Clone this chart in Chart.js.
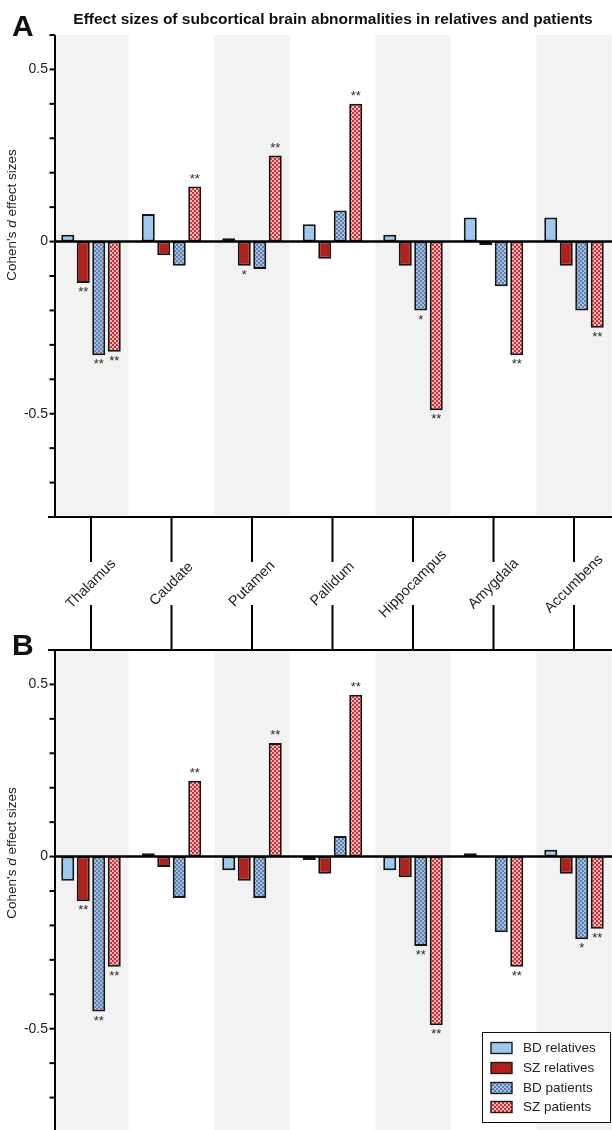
<!DOCTYPE html>
<html>
<head>
<meta charset="utf-8">
<script src="https://cdn.jsdelivr.net/npm/chart.js@4.4.1/dist/chart.umd.min.js"></script>
<style>
  html, body { margin: 0; padding: 0; background: #fff; width: 612px; height: 1130px; overflow: hidden; }
  #wrap { position: relative; width: 612px; height: 1130px; overflow: hidden; }
  canvas { position: absolute; left: 0; }
  #chartA { top: 0; }
  #chartB { top: 620px; }
</style>
</head>
<body>
<div id="wrap">
  <canvas id="chartA" width="616" height="660"></canvas>
  <canvas id="chartB" width="616" height="516"></canvas>
</div>
<script>
const regions = ['Thalamus', 'Caudate', 'Putamen', 'Pallidum', 'Hippocampus', 'Amygdala', 'Accumbens'];
const seriesLabels = ['BD relatives', 'SZ relatives', 'BD patients', 'SZ patients'];

// panel A
const bdRelA = [0.02, 0.08, 0.01, 0.05, 0.02, 0.07, 0.07];
const szRelA = [-0.12, -0.04, -0.07, -0.05, -0.07, -0.01, -0.07];
const bdPatA = [-0.33, -0.07, -0.08, 0.09, -0.20, -0.13, -0.20];
const szPatA = [-0.32, 0.16, 0.25, 0.40, -0.49, -0.33, -0.25];

// panel B
const bdRelB = [-0.07, 0.01, -0.04, -0.01, -0.04, 0.01, 0.02];
const szRelB = [-0.13, -0.03, -0.07, -0.05, -0.06, 0.00, -0.05];
const bdPatB = [-0.45, -0.12, -0.12, 0.06, -0.26, -0.22, -0.24];
const szPatB = [-0.32, 0.22, 0.33, 0.47, -0.49, -0.32, -0.21];

// significance marks
const sigA = [
  ['', '', '', '', '', '', ''],
  ['**', '', '*', '', '', '', ''],
  ['**', '', '', '', '*', '', ''],
  ['**', '**', '**', '**', '**', '**', '**']
];
const sigB = [
  ['', '', '', '', '', '', ''],
  ['**', '', '', '', '', '', ''],
  ['**', '', '', '', '**', '', '*'],
  ['**', '**', '**', '**', '**', '**', '**']
];

const yTicks = [0.6, 0.5, 0.4, 0.3, 0.2, 0.1, 0, -0.1, -0.2, -0.3, -0.4, -0.5, -0.6, -0.7, -0.8];
const yTickLabels = ['0.5', '0', '-0.5'];
const yTickLabelValues = [0.5, 0, -0.5];

const FONT = '"Liberation Sans", Arial, Helvetica, sans-serif';
const AXIS_X = 55;

function checker(c1, c2) {
  const p = document.createElement('canvas');
  p.width = 4; p.height = 4;
  const g = p.getContext('2d');
  g.fillStyle = c1; g.fillRect(0, 0, 4, 4);
  g.fillStyle = c2; g.fillRect(0, 0, 2, 2); g.fillRect(2, 2, 2, 2);
  return g.createPattern(p, 'repeat');
}

const fills = [
  '#9ec8f0',
  '#b2201b',
  checker('#a9c1e0', '#5a7db2'),
  checker('#f2bcbc', '#d82a30')
];

function makeDatasets(series) {
  return series.map((d, i) => ({
    label: seriesLabels[i],
    data: d,
    backgroundColor: fills[i],
    borderColor: '#161616',
    borderWidth: 2,
    borderSkipped: false,
    categoryPercentage: 0.77,
    barPercentage: 0.84
  }));
}

function drawYTitle(ctx, cx, cy) {
  ctx.save();
  ctx.translate(cx, cy);
  ctx.rotate(-Math.PI / 2);
  ctx.fillStyle = '#222';
  ctx.textBaseline = 'middle';
  const p1 = "Cohen's ", p2 = 'd', p3 = ' effect sizes';
  ctx.font = '13.5px ' + FONT;
  const w1 = ctx.measureText(p1).width, w3 = ctx.measureText(p3).width;
  ctx.font = 'italic 13.5px ' + FONT;
  const w2 = ctx.measureText(p2).width;
  const x = -(w1 + w2 + w3) / 2;
  ctx.textAlign = 'left';
  ctx.font = '13.5px ' + FONT;
  ctx.fillText(p1, x, 0);
  ctx.font = 'italic 13.5px ' + FONT;
  ctx.fillText(p2, x + w1, 0);
  ctx.font = '13.5px ' + FONT;
  ctx.fillText(p3, x + w1 + w2, 0);
  ctx.restore();
}

function panelPlugin(opts) {
  return {
    id: 'panel' + opts.letter,
    beforeDatasetsDraw(chart) {
      const ctx = chart.ctx, area = chart.chartArea, xs = chart.scales.x;
      ctx.save();
      ctx.fillStyle = '#f2f2f2';
      regions.forEach((r, i) => {
        if (i % 2 !== 0) return;
        const cx = xs.getPixelForValue(i);
        const l = Math.max(cx - 37.5, AXIS_X), rr = Math.min(cx + 37.5, area.right);
        ctx.fillRect(l, area.top, rr - l, area.bottom - area.top);
      });
      ctx.restore();
    },
    afterDatasetsDraw(chart) {
      const ctx = chart.ctx, area = chart.chartArea, ys = chart.scales.y;
      ctx.save();
      // zero line
      const y0 = ys.getPixelForValue(0);
      ctx.strokeStyle = '#000';
      ctx.lineWidth = 2.5;
      ctx.beginPath();
      ctx.moveTo(AXIS_X, y0); ctx.lineTo(612, y0);
      ctx.stroke();

      // y axis
      ctx.lineWidth = 2;
      ctx.beginPath();
      ctx.moveTo(AXIS_X, area.top); ctx.lineTo(AXIS_X, area.bottom);
      ctx.stroke();
      yTicks.forEach(v => {
        const y = ys.getPixelForValue(v);
        ctx.beginPath();
        ctx.moveTo(AXIS_X - 5.5, y); ctx.lineTo(AXIS_X, y);
        ctx.stroke();
      });
      ctx.fillStyle = '#222';
      ctx.font = '14px ' + FONT;
      ctx.textAlign = 'right';
      ctx.textBaseline = 'middle';
      yTickLabels.forEach((t, i) => {
        ctx.fillText(t, AXIS_X - 7, ys.getPixelForValue(yTickLabelValues[i]));
      });
      drawYTitle(ctx, 12.5, opts.yTitleY);

      // significance stars
      ctx.font = '13px ' + FONT;
      ctx.fillStyle = '#2a2a2a';
      ctx.textAlign = 'center';
      ctx.textBaseline = 'top';
      opts.sig.forEach((row, di) => {
        const meta = chart.getDatasetMeta(di);
        row.forEach((s, i) => {
          if (!s) return;
          const bar = meta.data[i];
          const v = chart.data.datasets[di].data[i];
          if (v >= 0) ctx.fillText(s, bar.x, bar.y - 14);
          else ctx.fillText(s, bar.x, bar.y + 3);
        });
      });

      // panel letter
      ctx.fillStyle = '#111';
      ctx.font = 'bold 30px ' + FONT;
      ctx.textAlign = 'left';
      ctx.textBaseline = 'alphabetic';
      ctx.fillText(opts.letter, 12, opts.letterY);
      ctx.restore();
      if (opts.extra) opts.extra(chart);
    }
  };
}

function extraA(chart) {
  const ctx = chart.ctx, area = chart.chartArea, xs = chart.scales.x;
  ctx.save();
  ctx.fillStyle = '#111';
  ctx.font = 'bold 15.5px ' + FONT;
  ctx.textAlign = 'center';
  ctx.textBaseline = 'alphabetic';
  ctx.fillText('Effect sizes of subcortical brain abnormalities in relatives and patients', 333, 23.5);

  ctx.strokeStyle = '#000';
  ctx.lineWidth = 2;
  ctx.beginPath();
  ctx.moveTo(48, area.bottom); ctx.lineTo(612, area.bottom);
  ctx.stroke();

  ctx.fillStyle = '#222';
  ctx.font = '14.5px ' + FONT;
  regions.forEach((r, i) => {
    const cx = xs.getPixelForValue(i);
    ctx.beginPath();
    ctx.moveTo(cx, area.bottom); ctx.lineTo(cx, 562);
    ctx.moveTo(cx, 605); ctx.lineTo(cx, 650);
    ctx.stroke();
    ctx.save();
    ctx.translate(cx, 584);
    ctx.rotate(-Math.PI / 4);
    ctx.textAlign = 'center';
    ctx.textBaseline = 'middle';
    ctx.fillText(r, 0, 0);
    ctx.restore();
  });
  ctx.restore();
}

function extraB(chart) {
  const ctx = chart.ctx, area = chart.chartArea;
  ctx.save();
  ctx.strokeStyle = '#000';
  ctx.lineWidth = 2;
  ctx.beginPath();
  ctx.moveTo(48, area.top); ctx.lineTo(612, area.top);
  ctx.stroke();

  // legend
  const bx = 482, by = 412, bw = 128, bh = 90;
  ctx.fillStyle = '#fff';
  ctx.fillRect(bx, by, bw, bh);
  ctx.lineWidth = 1;
  ctx.strokeStyle = '#111';
  ctx.strokeRect(bx + 0.5, by + 0.5, bw, bh);
  const rows = [428, 448, 468, 487];
  ctx.font = '13.5px ' + FONT;
  ctx.textAlign = 'left';
  ctx.textBaseline = 'middle';
  seriesLabels.forEach((lab, i) => {
    ctx.fillStyle = fills[i];
    ctx.fillRect(491, rows[i] - 5.5, 21, 11);
    ctx.lineWidth = 1.4;
    ctx.strokeStyle = '#1c1c1c';
    ctx.strokeRect(491, rows[i] - 5.5, 21, 11);
    ctx.fillStyle = '#222';
    ctx.fillText(lab, 523, rows[i]);
  });
  ctx.restore();
}

function makeChart(id, series, padding, plugin) {
  return new Chart(document.getElementById(id), {
    type: 'bar',
    data: { labels: regions, datasets: makeDatasets(series) },
    options: {
      responsive: false,
      animation: false,
      layout: { padding: padding },
      plugins: { legend: { display: false }, tooltip: { enabled: false } },
      scales: {
        x: { display: false, grid: { display: false } },
        y: { display: false, min: -0.8, max: 0.6 }
      }
    },
    plugins: [plugin]
  });
}

makeChart('chartA', [bdRelA, szRelA, bdPatA, szPatA],
  { top: 35, bottom: 143, left: 50.75, right: 1.75 },
  panelPlugin({ letter: 'A', letterY: 36, yTitleY: 215, sig: sigA, extra: extraA }));

makeChart('chartB', [bdRelB, szRelB, bdPatB, szPatB],
  { top: 30, bottom: 4, left: 50.75, right: 1.75 },
  panelPlugin({ letter: 'B', letterY: 35, yTitleY: 233, sig: sigB, extra: extraB }));
</script>
</body>
</html>
